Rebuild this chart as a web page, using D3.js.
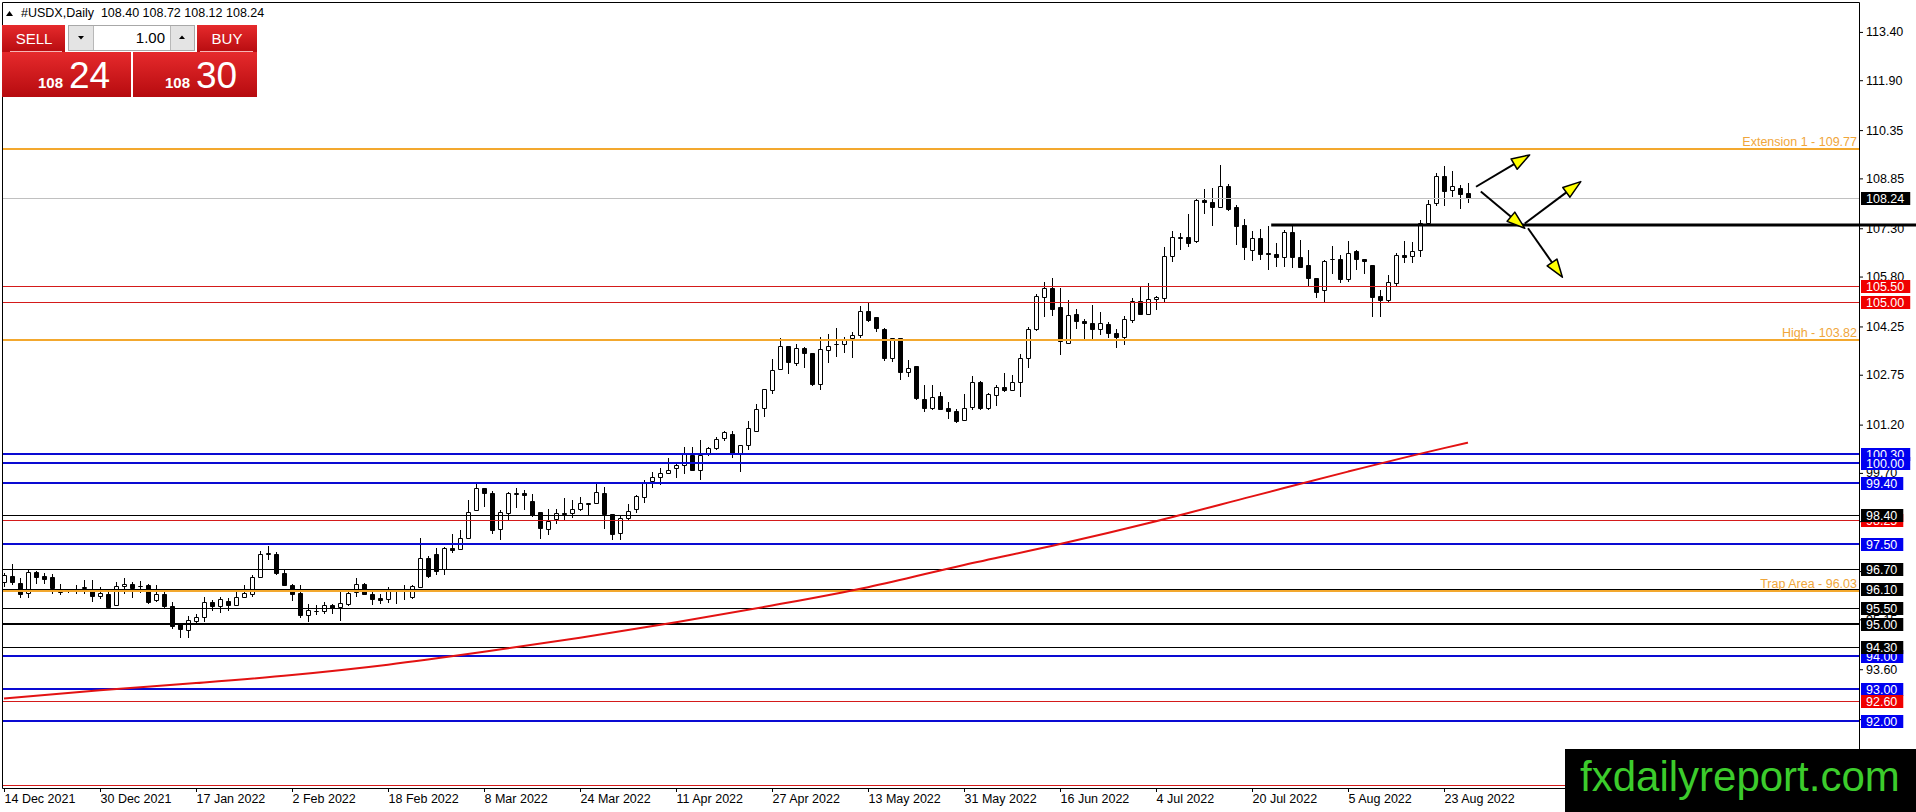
<!DOCTYPE html>
<html>
<head>
<meta charset="utf-8">
<script src="https://cdn.jsdelivr.net/npm/d3@7"></script>
<style>
  html, body { margin: 0; padding: 0; background: #fff; overflow: hidden; }
  svg { display: block; font-family: "Liberation Sans", Arial, sans-serif; }
</style>
</head>
<body>
<svg id="chart" width="1916" height="812"></svg>
<script>
  // ---- data ----
  var symbol = "#USDX,Daily";
  var bid = 108.24;
  var ask = 108.30;
  var lot = "1.00";

  var tickDates = ["14 Dec 2021", "30 Dec 2021", "17 Jan 2022", "2 Feb 2022", "18 Feb 2022",
    "8 Mar 2022", "24 Mar 2022", "11 Apr 2022", "27 Apr 2022", "13 May 2022", "31 May 2022",
    "16 Jun 2022", "4 Jul 2022", "20 Jul 2022", "5 Aug 2022", "23 Aug 2022"];

  var priceTicks = [113.40, 111.90, 110.35, 108.85, 107.30, 105.80, 104.25, 102.75, 101.20,
    99.70, 98.20, 96.65, 95.15, 93.60, 92.05, 90.55];

  var opens = [96.31, 96.50, 96.29, 95.98, 96.62, 96.49, 96.45, 96.00, 96.03, 96.03, 96.12, 96.04,
    95.88, 95.95, 95.61, 96.19, 96.26, 96.20, 96.23, 95.74, 95.93, 95.58, 95.00, 94.83, 95.10,
    95.21, 95.69, 95.57, 95.72, 95.61, 95.85, 95.95, 96.45, 97.19, 97.19, 96.59, 96.23, 95.98,
    95.30, 95.40, 95.41, 95.61, 95.54, 95.62, 96.00, 96.26, 95.95, 95.80, 95.78, 96.05, 96.02,
    95.85, 96.16, 97.06, 97.19, 96.70, 97.38, 97.33, 97.69, 98.56, 99.22, 99.08, 97.97, 98.46,
    99.05, 99.09, 98.84, 98.47, 97.97, 98.28, 98.46, 98.44, 98.59, 98.72, 98.78, 99.09, 98.41,
    97.82, 98.31, 98.59, 98.96, 99.44, 99.58, 99.71, 99.86, 99.94, 100.27, 99.80, 100.33, 100.48,
    100.77, 100.92, 100.33, 100.58, 101.01, 101.72, 102.29, 102.94, 103.64, 103.12, 103.59,
    103.41, 102.45, 103.51, 103.70, 103.70, 103.88, 103.98, 104.73, 104.53, 104.16, 103.26,
    103.88, 102.82, 103.02, 102.01, 101.73, 102.08, 101.73, 101.62, 101.34, 101.75, 102.51,
    101.72, 102.12, 102.36, 102.29, 102.51, 103.26, 104.16, 105.15, 105.43, 104.86, 103.75,
    104.65, 104.43, 104.37, 104.16, 104.34, 104.06, 103.91, 104.45, 105.05, 104.65, 105.09,
    105.12, 106.45, 107.00, 107.02, 106.91, 108.18, 108.11, 107.97, 108.61, 107.97, 107.39,
    106.62, 106.99, 106.52, 106.49, 106.42, 107.19, 106.40, 106.16, 105.74, 105.38, 106.33,
    106.33, 105.71, 106.59, 106.33, 106.16, 105.20, 105.07, 105.59, 106.47, 106.44, 106.62,
    107.45, 108.07, 108.92, 108.49, 108.54, 108.40];

  var highs = [96.60, 96.88, 96.42, 96.68, 96.66, 96.59, 96.57, 96.26, 96.05, 96.22, 96.37, 96.37,
    96.14, 96.00, 96.31, 96.42, 96.31, 96.35, 96.26, 96.21, 96.00, 95.69, 95.04, 95.25, 95.33,
    95.85, 95.74, 95.85, 95.80, 96.00, 96.21, 96.52, 97.27, 97.42, 97.25, 96.68, 96.26, 96.21,
    95.64, 95.59, 95.69, 95.64, 96.00, 96.00, 96.44, 96.28, 96.06, 95.95, 96.16, 96.08, 96.23,
    96.21, 97.69, 97.11, 97.38, 97.40, 97.80, 97.92, 98.87, 99.39, 99.22, 99.13, 98.56, 99.11,
    99.24, 99.16, 99.03, 98.49, 98.59, 98.59, 98.92, 98.85, 98.94, 98.78, 99.34, 99.27, 98.41,
    98.38, 98.72, 99.01, 99.49, 99.73, 99.84, 100.15, 100.04, 100.51, 100.51, 100.72, 100.51,
    100.82, 101.00, 101.00, 100.58, 101.31, 101.85, 102.32, 103.24, 103.88, 103.64, 103.72,
    103.62, 103.41, 103.93, 104.03, 104.19, 103.93, 104.08, 104.89, 104.99, 104.55, 104.21,
    103.88, 103.88, 103.20, 103.02, 102.43, 102.43, 102.22, 101.89, 101.68, 102.14, 102.72,
    102.55, 102.19, 102.43, 102.79, 102.74, 103.39, 104.24, 105.26, 105.64, 105.75, 105.43,
    105.07, 104.78, 104.47, 104.91, 104.71, 104.40, 104.17, 104.57, 105.12, 105.48, 105.59,
    105.19, 106.73, 107.22, 107.16, 107.74, 108.23, 108.51, 108.54, 109.27, 108.66, 108.02,
    107.58, 107.21, 107.27, 107.37, 106.83, 107.25, 107.40, 106.93, 106.62, 105.76, 106.31,
    106.76, 106.47, 106.91, 106.62, 106.36, 106.16, 105.38, 105.85, 106.52, 106.91, 106.88,
    107.56, 108.18, 109.03, 109.23, 109.09, 108.64, 108.72];

  var lows = [96.20, 96.26, 95.83, 95.85, 96.29, 96.29, 95.97, 95.93, 96.00, 95.96, 95.98, 95.72,
    95.81, 95.53, 95.60, 95.97, 95.85, 96.00, 95.66, 95.72, 95.54, 94.89, 94.60, 94.60, 95.02,
    95.10, 95.43, 95.38, 95.45, 95.60, 95.85, 95.88, 96.45, 97.04, 96.55, 96.21, 95.76, 95.23,
    95.10, 95.33, 95.35, 95.36, 95.12, 95.59, 95.88, 95.93, 95.62, 95.66, 95.69, 95.66, 95.78,
    95.82, 96.16, 96.47, 96.55, 96.57, 97.25, 97.33, 97.69, 98.56, 98.68, 97.82, 97.66, 98.23,
    98.65, 98.59, 98.37, 97.69, 97.81, 98.13, 98.28, 98.34, 98.54, 98.38, 98.78, 97.99, 97.66,
    97.66, 98.28, 98.47, 98.80, 99.26, 99.37, 99.71, 99.58, 99.71, 99.80, 99.52, 100.25, 100.43,
    100.72, 100.18, 99.76, 100.43, 101.01, 101.47, 102.17, 102.94, 102.79, 103.05, 103.00,
    102.43, 102.32, 103.15, 103.34, 103.46, 103.31, 103.93, 104.42, 104.11, 103.20, 103.17,
    102.63, 102.72, 101.99, 101.62, 101.70, 101.68, 101.39, 101.27, 101.34, 101.70, 101.70,
    101.67, 101.81, 102.25, 102.27, 102.10, 103.00, 104.14, 104.57, 104.60, 103.38, 103.75,
    104.19, 103.90, 103.88, 104.01, 103.91, 103.62, 103.72, 104.40, 104.65, 104.65, 104.78,
    105.02, 106.29, 106.65, 106.76, 106.88, 107.76, 107.40, 107.97, 107.87, 106.81, 106.35,
    106.31, 106.36, 106.03, 106.12, 106.12, 106.10, 106.11, 105.50, 105.17, 105.00, 105.92,
    105.62, 105.67, 106.05, 105.92, 104.58, 104.58, 105.05, 105.54, 106.26, 106.26, 106.44,
    107.40, 108.02, 108.02, 108.30, 107.94, 108.12];

  var closes = [96.54, 96.31, 95.95, 96.62, 96.47, 96.41, 96.13, 96.03, 96.02, 96.05, 96.14, 95.87,
    95.97, 95.54, 96.20, 96.26, 96.13, 96.18, 95.69, 95.93, 95.57, 94.95, 94.86, 95.14, 95.23,
    95.69, 95.57, 95.77, 95.59, 95.85, 95.97, 96.45, 97.19, 97.20, 96.59, 96.21, 95.95, 95.30,
    95.45, 95.42, 95.59, 95.49, 95.67, 95.98, 96.26, 95.95, 95.78, 95.74, 96.06, 96.07, 96.03,
    96.18, 97.07, 96.49, 96.66, 97.38, 97.30, 97.69, 98.47, 99.22, 99.09, 97.94, 98.49, 99.09,
    99.06, 99.01, 98.39, 98.00, 98.20, 98.44, 98.41, 98.59, 98.75, 98.78, 99.11, 98.41, 97.79,
    98.31, 98.52, 98.98, 99.42, 99.58, 99.70, 99.80, 99.94, 100.28, 99.80, 100.27, 100.46,
    100.75, 100.96, 100.28, 100.58, 101.08, 101.70, 102.32, 102.91, 103.64, 103.15, 103.59,
    103.43, 102.46, 103.54, 103.64, 103.72, 103.82, 103.98, 104.73, 104.45, 104.19, 103.26,
    103.88, 102.84, 102.96, 102.03, 101.72, 102.06, 101.70, 101.62, 101.31, 101.72, 102.51,
    101.72, 102.14, 102.36, 102.29, 102.51, 103.26, 104.16, 105.19, 105.43, 104.79, 103.80,
    104.60, 104.43, 104.36, 104.16, 104.37, 104.05, 103.91, 104.47, 105.05, 104.65, 105.09,
    105.15, 106.45, 107.04, 107.02, 106.85, 108.18, 108.11, 107.97, 108.61, 107.89, 107.37,
    106.71, 106.99, 106.50, 106.51, 106.42, 107.19, 106.42, 106.11, 105.76, 105.33, 106.28,
    106.35, 105.71, 106.52, 106.33, 106.28, 105.17, 105.07, 105.62, 106.47, 106.42, 106.59,
    107.45, 108.04, 108.92, 108.47, 108.61, 108.38, 108.24];

  // 200-day moving average, read at the date ticks and at the last bar
  var maBars = [0, 12, 24, 36, 48, 60, 72, 84, 96, 108, 120, 132, 144, 156, 168, 180, 183];
  var maValues = [92.69, 92.95, 93.17, 93.42, 93.74, 94.14, 94.58, 95.06, 95.58, 96.15, 96.84,
    97.49, 98.20, 98.97, 99.74, 100.47, 100.64];

  // horizontal levels drawn on the chart
  var blueLevels = [100.30, 100.00, 99.40, 97.50, 94.00, 93.00, 92.00];
  var redLevels = [105.50, 105.00, 98.25, 92.60, 90.00];
  var blackLevels = [98.40, 96.70, 96.10, 95.50, 94.30];
  var heavyLevels = [95.00];
  var orangeLevels = [109.77, 103.82, 96.03];
  var orangeNames = ["Extension 1", "High", "Trap Area"];

  // black ray and the arrowed lines, in (bar, price)
  var rayStart = [158.4, 107.40];
  var arrowFrom = [[184.0, 108.59], [184.6, 108.44], [190.1, 107.45], [190.5, 107.30]];
  var arrowTo = [[190.7, 109.58], [190.1, 107.30], [197.1, 108.75], [194.8, 105.78]];

  (function () {
    var svg = d3.select("#chart");
    var W = +svg.attr("width");
    var H = +svg.attr("height");
    var plotLeft = 2, plotTop = 2, plotRight = 1859, plotBottom = 788;
    var fontFamily = "Liberation Sans, Arial, sans-serif";

    var x = d3.scaleLinear().domain([0, 183]).range([4, 1468]);
    var y = d3.scaleLinear().domain([89.91, 114.33]).range([plotBottom, plotTop]);

    function crisp(v) { return Math.round(v) + 0.5; }

    svg.append("rect").attr("width", W).attr("height", H).attr("fill", "#fff");

    var defs = svg.append("defs");
    defs.append("clipPath").attr("id", "plotClip")
      .append("rect").attr("x", plotLeft).attr("y", plotTop)
      .attr("width", plotRight - plotLeft).attr("height", plotBottom - plotTop);

    var grad = defs.append("linearGradient").attr("id", "redGrad")
      .attr("x1", 0).attr("y1", 0).attr("x2", 0).attr("y2", 1);
    grad.append("stop").attr("offset", "0%").attr("stop-color", "#e62a2c");
    grad.append("stop").attr("offset", "100%").attr("stop-color", "#b60b0f");

    // ---- axes ----
    var xAxis = d3.axisBottom(x)
      .tickValues(d3.range(tickDates.length).map(function (k) { return k * 12; }))
      .tickFormat(function (d) { return tickDates[d / 12]; })
      .tickSize(4);

    var gx = svg.append("g")
      .attr("transform", "translate(0," + plotBottom + ")")
      .call(xAxis)
      .attr("font-family", fontFamily)
      .attr("font-size", 12.5);
    gx.select(".domain").remove();
    gx.selectAll("text").attr("text-anchor", "start").attr("x", 0).attr("y", 6).attr("fill", "#000");

    var yAxis = d3.axisRight(y)
      .tickValues(priceTicks)
      .tickFormat(d3.format(".2f"))
      .tickSize(4);

    var gy = svg.append("g")
      .attr("transform", "translate(" + plotRight + ",0)")
      .call(yAxis)
      .attr("font-family", fontFamily)
      .attr("font-size", 12.5);
    gy.select(".domain").remove();
    gy.selectAll("text").attr("x", 7).attr("fill", "#000");

    // ---- plot ----
    var plot = svg.append("g").attr("clip-path", "url(#plotClip)");
    var bars = d3.range(opens.length);

    plot.selectAll("line.wick")
      .data(bars)
      .join("line")
      .attr("class", "wick")
      .attr("x1", function (i) { return crisp(x(i)); })
      .attr("x2", function (i) { return crisp(x(i)); })
      .attr("y1", function (i) { return Math.round(y(highs[i])); })
      .attr("y2", function (i) { return Math.round(y(lows[i])) + 1; })
      .attr("stroke", "#000");

    plot.selectAll("path.body")
      .data(bars)
      .join("path")
      .attr("class", "body")
      .attr("d", function (i) {
        var y0 = Math.round(y(Math.max(opens[i], closes[i]))) + 0.5;
        var y1 = Math.round(y(Math.min(opens[i], closes[i]))) + 0.5;
        var x0 = Math.round(x(i)) - 1.5;
        return "M" + x0 + "," + y0 + "h4V" + y1 + "h-4Z";
      })
      .attr("fill", function (i) { return closes[i] >= opens[i] ? "#fff" : "#000"; })
      .attr("stroke", "#000");

    var levels = plot.append("g");

    function levelLine(p, color, w) {
      var yy = w % 2 ? crisp(y(p)) : Math.round(y(p));
      levels.append("line")
        .attr("x1", plotLeft).attr("x2", plotRight)
        .attr("y1", yy).attr("y2", yy)
        .attr("stroke", color)
        .attr("stroke-width", w);
    }

    levelLine(bid, "#c0c0c0", 1);
    blackLevels.forEach(function (p) { levelLine(p, "#000", 1); });
    heavyLevels.forEach(function (p) { levelLine(p, "#000", 2); });
    redLevels.forEach(function (p) { levelLine(p, "#d41a1a", 1); });
    blueLevels.forEach(function (p) { levelLine(p, "#0a0ad2", 2); });
    orangeLevels.forEach(function (p, k) {
      levelLine(p, "#f3a82e", 2);
      levels.append("text")
        .attr("x", plotRight - 2)
        .attr("y", Math.round(y(p)) - 3)
        .attr("text-anchor", "end")
        .attr("font-size", 12.5)
        .attr("fill", "#f0a63a")
        .text(orangeNames[k] + " - " + p.toFixed(2));
    });

    // 200 MA
    var maLine = d3.line()
      .x(function (d, k) { return x(maBars[k]); })
      .y(function (d) { return y(d); })
      .curve(d3.curveMonotoneX);

    plot.append("path")
      .attr("d", maLine(maValues))
      .attr("fill", "none")
      .attr("stroke", "#e31212")
      .attr("stroke-width", 2);

    // ---- labels on the price scale ----
    var labels = svg.append("g").attr("font-size", 12.5);

    function levelLabel(p, bg) {
      var yy = Math.round(y(p));
      var r = labels.append("rect")
        .attr("x", plotRight + 2).attr("y", yy - 6)
        .attr("height", 13)
        .attr("fill", bg);
      var t = labels.append("text")
        .attr("x", plotRight + 7).attr("y", yy + 4.5)
        .attr("fill", "#fff")
        .text(p.toFixed(2));
      r.attr("width", t.node().getComputedTextLength() + 11);
    }

    blueLevels.forEach(function (p) { levelLabel(p, "#0000f0"); });
    redLevels.forEach(function (p) { levelLabel(p, "#f00000"); });
    blackLevels.forEach(function (p) { levelLabel(p, "#000"); });
    heavyLevels.forEach(function (p) { levelLabel(p, "#000"); });

    // ray and arrows
    var rayY = Math.round(y(rayStart[1]));
    svg.append("line")
      .attr("x1", x(rayStart[0])).attr("x2", W)
      .attr("y1", rayY).attr("y2", rayY)
      .attr("stroke", "#000")
      .attr("stroke-width", 3);

    levelLabel(bid, "#000");

    var arrows = svg.append("g");
    arrowFrom.forEach(function (a, k) {
      var x1 = x(a[0]), y1 = y(a[1]);
      var x2 = x(arrowTo[k][0]), y2 = y(arrowTo[k][1]);
      var ang = Math.atan2(y2 - y1, x2 - x1);
      var len = 18, half = 6;
      var bx = x2 - len * Math.cos(ang), by = y2 - len * Math.sin(ang);
      arrows.append("line")
        .attr("x1", x1).attr("y1", y1).attr("x2", bx).attr("y2", by)
        .attr("stroke", "#000").attr("stroke-width", 2);
      arrows.append("path")
        .attr("d", "M" + x2 + "," + y2 +
          "L" + (bx + half * Math.sin(ang)) + "," + (by - half * Math.cos(ang)) +
          "L" + (bx - half * Math.sin(ang)) + "," + (by + half * Math.cos(ang)) + "Z")
        .attr("fill", "#ffff00")
        .attr("stroke", "#000")
        .attr("stroke-width", 1.5)
        .attr("stroke-linejoin", "round");
    });

    // frame
    svg.append("path")
      .attr("d", "M" + (plotRight + 0.5) + "," + (plotBottom + 0.5) + "H" + (plotLeft + 0.5) +
        "V" + (plotTop + 0.5) + "H" + (plotRight + 0.5) + "V" + (plotBottom + 0.5))
      .attr("fill", "none")
      .attr("stroke", "#000");

    // ---- header & one-click panel ----
    var head = svg.append("g").attr("font-size", 12.5);
    head.append("path").attr("d", "M6,16L13,16L9.5,11Z").attr("fill", "#000");
    head.append("text")
      .attr("x", 21).attr("y", 17)
      .style("white-space", "pre")
      .text(symbol + "  " + [opens[183], highs[183], lows[183], closes[183]]
        .map(function (v) { return v.toFixed(2); }).join(" "));

    var panel = svg.append("g");
    panel.append("rect").attr("x", 2).attr("y", 25).attr("width", 63).attr("height", 28).attr("fill", "url(#redGrad)");
    panel.append("rect").attr("x", 197).attr("y", 25).attr("width", 60).attr("height", 28).attr("fill", "url(#redGrad)");
    panel.append("rect").attr("x", 2).attr("y", 52).attr("width", 129).attr("height", 45).attr("fill", "url(#redGrad)");
    panel.append("rect").attr("x", 133).attr("y", 52).attr("width", 124).attr("height", 45).attr("fill", "url(#redGrad)");
    panel.append("line").attr("x1", 10).attr("x2", 62).attr("y1", 51.5).attr("y2", 51.5)
      .attr("stroke", "#f6b4b4");
    panel.append("line").attr("x1", 200).attr("x2", 253).attr("y1", 51.5).attr("y2", 51.5)
      .attr("stroke", "#f6b4b4");

    panel.append("text").attr("x", 34).attr("y", 44).attr("text-anchor", "middle")
      .attr("font-size", 15).attr("fill", "#fff").text("SELL");
    panel.append("text").attr("x", 227).attr("y", 44).attr("text-anchor", "middle")
      .attr("font-size", 15).attr("fill", "#fff").text("BUY");

    // lot box
    panel.append("rect").attr("x", 68.5).attr("y", 25.5).attr("width", 126).attr("height", 25)
      .attr("fill", "#fff").attr("stroke", "#a8a8a8");
    panel.append("rect").attr("x", 69).attr("y", 26).attr("width", 24).attr("height", 24).attr("fill", "#e4e4e4");
    panel.append("rect").attr("x", 171).attr("y", 26).attr("width", 23).attr("height", 24).attr("fill", "#e4e4e4");
    panel.append("line").attr("x1", 93.5).attr("x2", 93.5).attr("y1", 26).attr("y2", 50).attr("stroke", "#b8b8b8");
    panel.append("line").attr("x1", 170.5).attr("x2", 170.5).attr("y1", 26).attr("y2", 50).attr("stroke", "#b8b8b8");
    panel.append("path").attr("d", "M78,36L84,36L81,39.5Z").attr("fill", "#000");
    panel.append("path").attr("d", "M179,39L185,39L182,35.5Z").attr("fill", "#000");
    panel.append("text").attr("x", 165).attr("y", 43).attr("text-anchor", "end")
      .attr("font-size", 15).attr("fill", "#000").text(lot);

    function quote(v, xBig, xSmall) {
      var s = v.toFixed(2).split(".");
      panel.append("text").attr("x", xSmall).attr("y", 88).attr("font-size", 15)
        .attr("font-weight", "bold").attr("fill", "#fff").text(s[0]);
      panel.append("text").attr("x", xBig).attr("y", 88).attr("font-size", 37)
        .attr("fill", "#fff").text(s[1]);
    }
    quote(bid, 69, 38);
    quote(ask, 196, 165);

    // ---- watermark banner ----
    svg.append("rect").attr("x", 1565).attr("y", 749).attr("width", W - 1565).attr("height", H - 749)
      .attr("fill", "#000");
    svg.append("text")
      .attr("x", 1580).attr("y", 791)
      .attr("font-size", 42)
      .attr("fill", "#3ccc2c")
      .text("fxdailyreport.com");
  })();
</script>
</body>
</html>
